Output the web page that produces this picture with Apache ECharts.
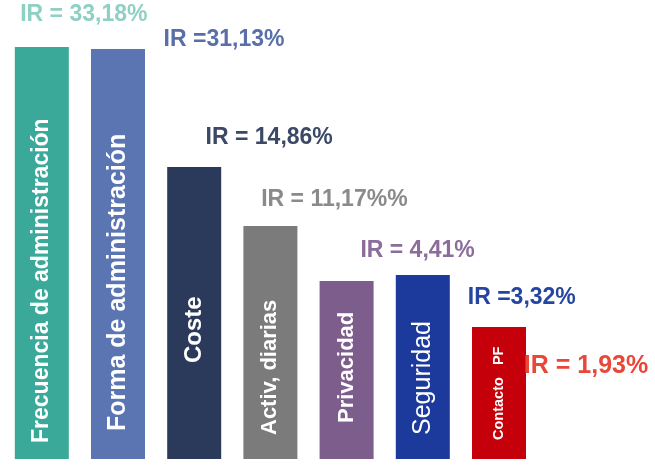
<!DOCTYPE html>
<html>
<head>
<meta charset="utf-8">
<script src="https://cdn.jsdelivr.net/npm/echarts@6/dist/echarts.min.js"></script>
<style>
html,body{margin:0;padding:0;background:#fff;}
#c{width:655px;height:466px;}
</style>
</head>
<body>
<div id="c"></div>
<script>
// Categories (text written inside each bar)
const categories = ['Frecuencia de administración','Forma de administración','Coste','Activ, diarias','Privacidad','Seguridad','Contacto   PF'];
// Bar heights (relative units, axis 0-100)
const barHeights = [98.1, 97.6, 69.5, 55.5, 42.4, 43.8, 31.4];
// IR labels shown next to each bar
const irLabels = ['IR = 33,18%','IR =31,13%','IR = 14,86%','IR = 11,17%%','IR = 4,41%','IR =3,32%','IR = 1,93%'];

// Styles
const barColors = ['#3aa99a','#5b75b3','#2b3a5b','#7b7b7b','#7c5d8c','#1b3a9b','#c6000b'];
const irColors  = ['#8fd0c5','#5a6fa9','#3b4866','#8a8a8a','#8b6c9a','#2546a0','#e8473a'];
const irOffsets = [[42,-32],[106,-9],[75,-29],[64,-26],[71,-30],[99,23],[87,39]];
const irSizes = [23,23,23,23,23,23,25];
const inDist = [16,28,96,24,36,24,19];
const inSize = [23,25,24,22,22,25,14.5];
const inWeight = ['bold','bold','bold','bold','bold','normal','bold'];

const FONT = "'Liberation Sans', Arial, sans-serif";

const chart = echarts.init(document.getElementById('c'), null, {renderer:'canvas'});

const mainData = barHeights.map((v,i)=>({
  value: v,
  itemStyle: {color: barColors[i]},
  label: {
    show: true,
    formatter: categories[i],
    position: 'insideBottom',
    rotate: 90,
    align: 'left',
    verticalAlign: 'middle',
    distance: inDist[i],
    color: '#ffffff',
    fontFamily: FONT,
    fontWeight: inWeight[i],
    fontSize: inSize[i]
  }
}));

const irData = barHeights.map((v,i)=>({
  value: v,
  label: {
    show: true,
    formatter: irLabels[i],
    position: 'top',
    distance: 0,
    align: 'center',
    verticalAlign: 'middle',
    offset: irOffsets[i],
    color: irColors[i],
    fontFamily: FONT,
    fontWeight: 'bold',
    fontSize: irSizes[i]
  }
}));

chart.setOption({
  animation: false,
  backgroundColor: '#ffffff',
  grid: {left: 3.7, right: 117.9, top: 39, bottom: 7, containLabel: false},
  xAxis: {
    type: 'category',
    data: categories,
    show: false
  },
  yAxis: {
    type: 'value',
    min: 0, max: 100,
    show: false
  },
  series: [
    {
      type: 'bar',
      barWidth: 54,
      data: mainData
    },
    {
      type: 'bar',
      barWidth: 54,
      barGap: '-100%',
      itemStyle: {color: 'rgba(0,0,0,0)'},
      data: irData,
      z: 3
    }
  ]
});
</script>
</body>
</html>
